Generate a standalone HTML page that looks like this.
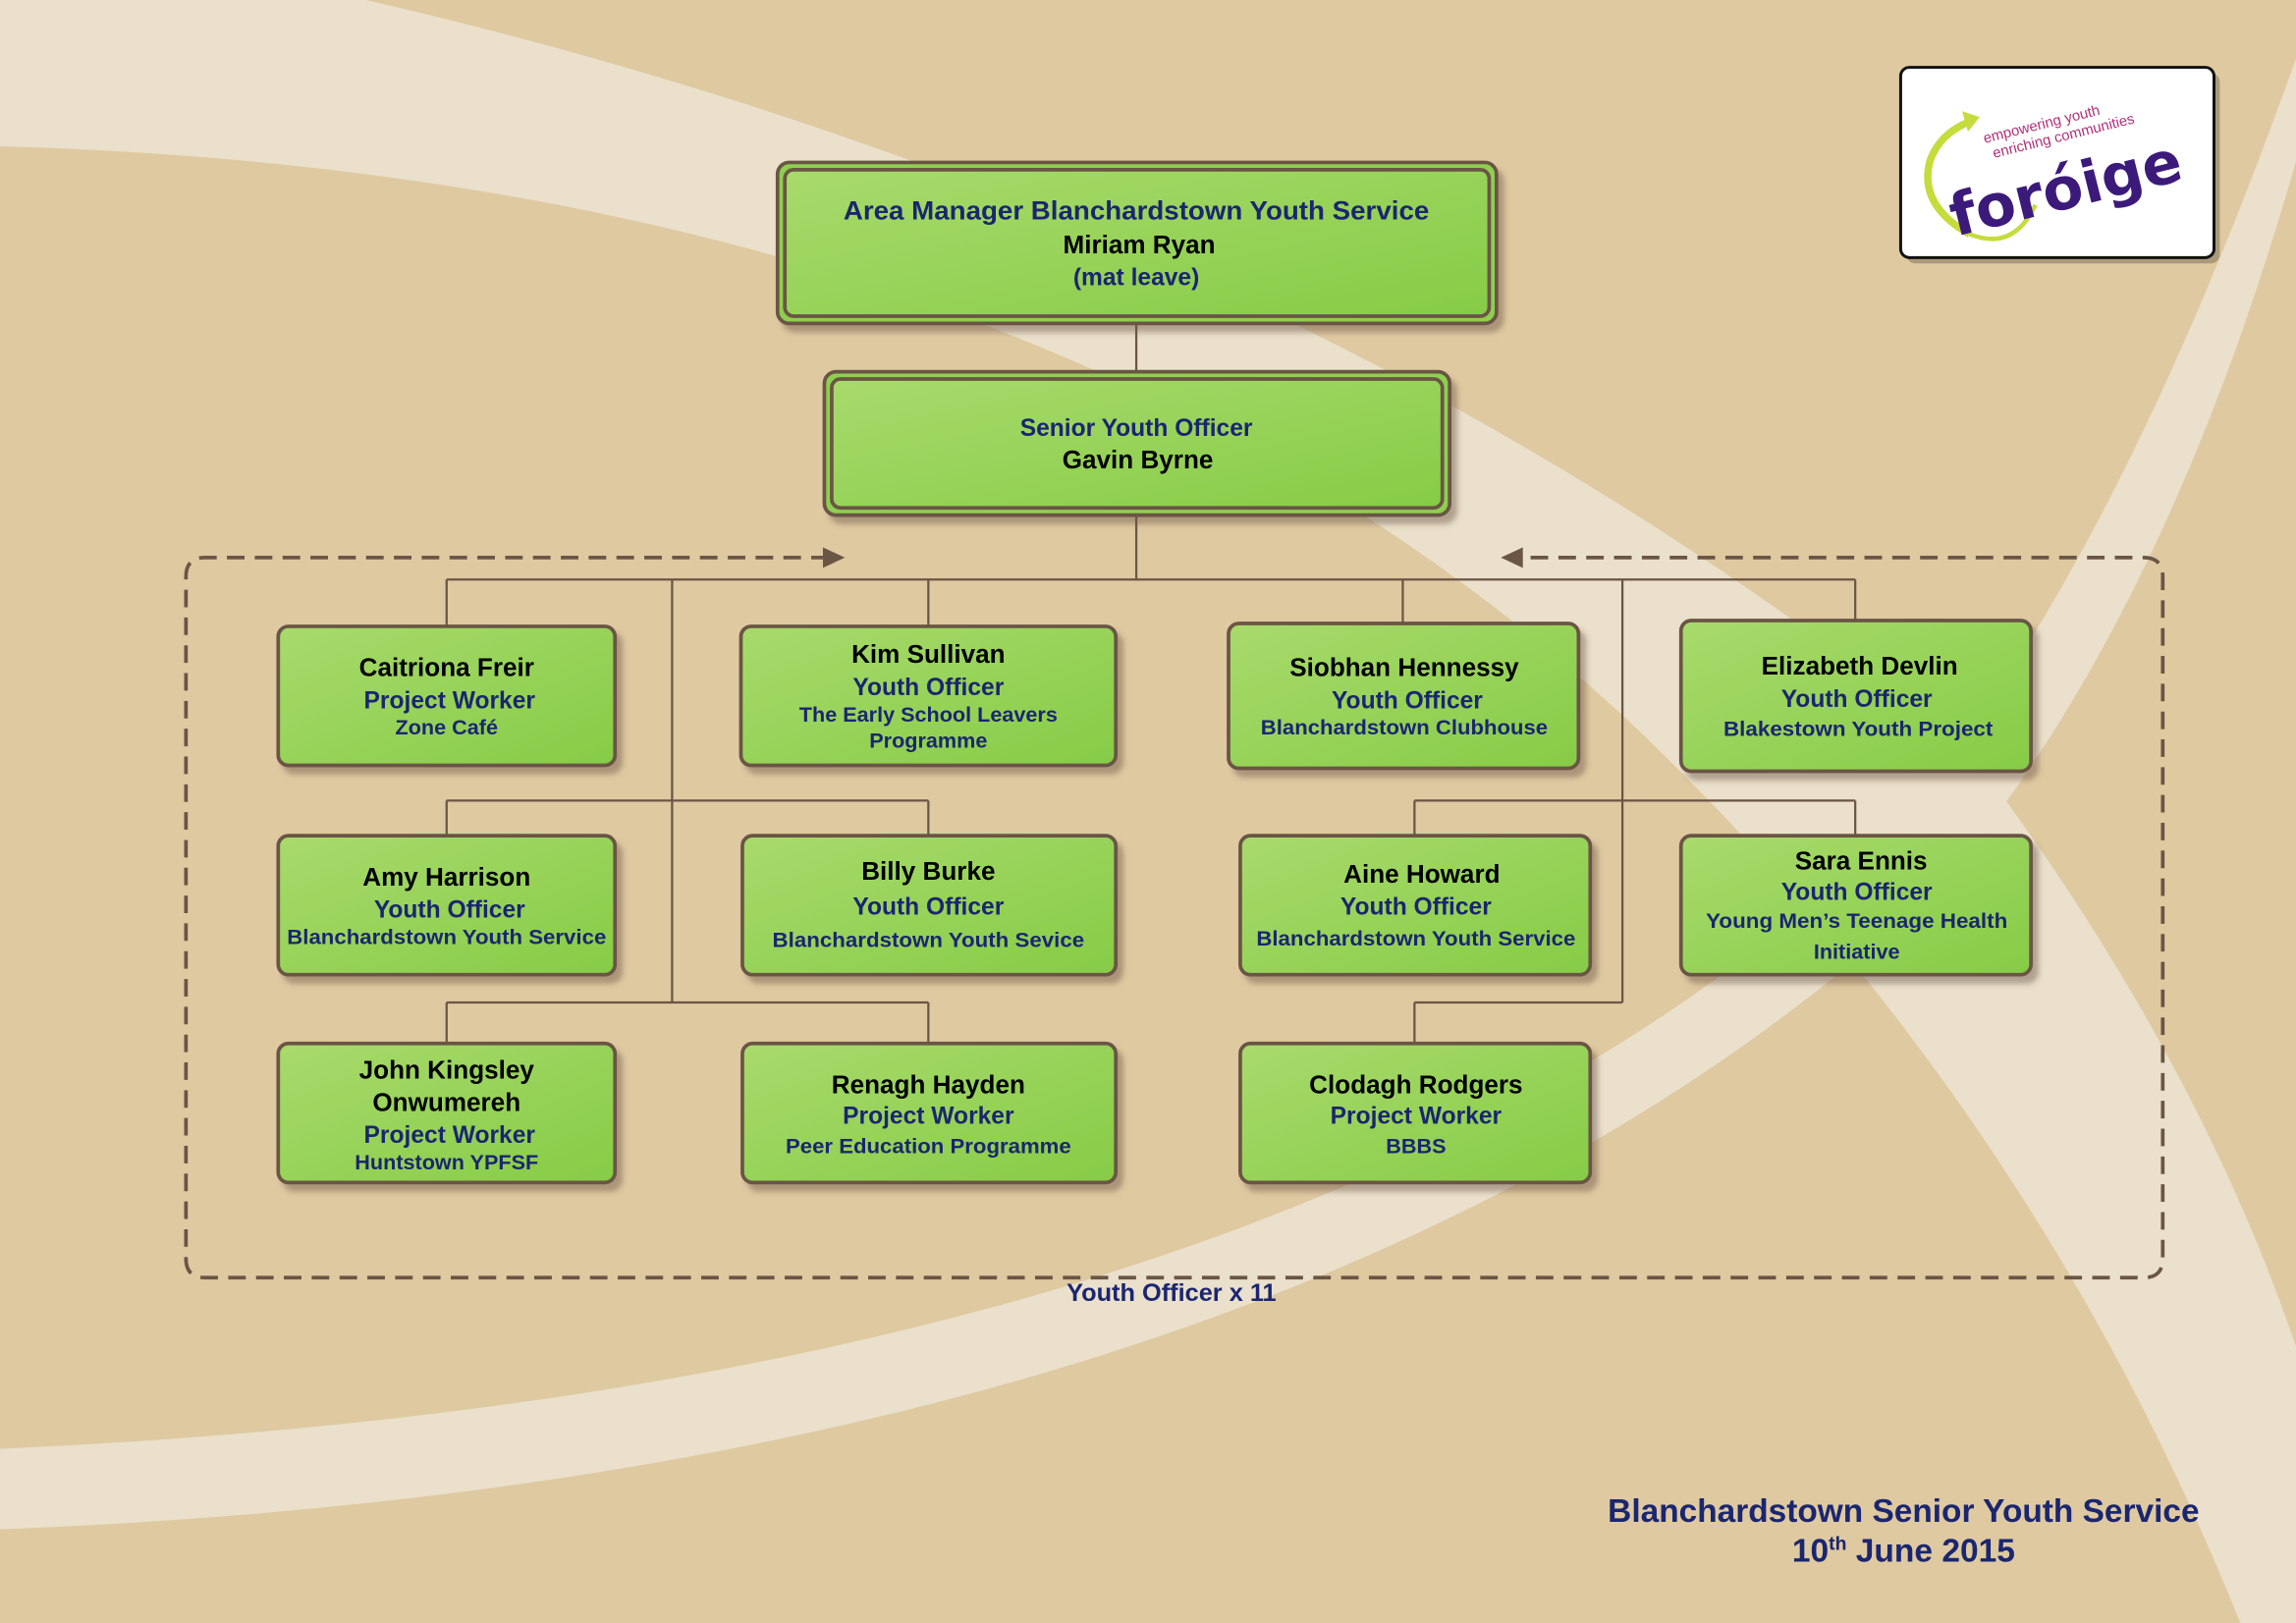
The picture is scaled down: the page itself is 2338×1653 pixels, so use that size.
<!DOCTYPE html>
<html><head><meta charset="utf-8"><style>
html,body{margin:0;padding:0;width:2338px;height:1653px;overflow:hidden;background:#dfc9a1}
svg{display:block}
text{font-family:"Liberation Sans",sans-serif;font-weight:bold;text-anchor:middle}
.n{fill:#000;font-size:17.5px}
.t{fill:#1a2670;font-size:16.5px}
.s{fill:#1a2670;font-size:14.5px}
</style></head><body>
<svg width="2338" height="1653" viewBox="0 0 1568 1109" preserveAspectRatio="none">
<defs>
<linearGradient id="g" x1="0" y1="0" x2="1" y2="1">
<stop offset="0" stop-color="#a8da6c"/><stop offset="1" stop-color="#86cc46"/>
</linearGradient>
<filter id="sh" x="-10%" y="-10%" width="130%" height="140%"><feDropShadow dx="4" dy="5" stdDeviation="2" flood-color="#6b5545" flood-opacity="0.45"/></filter>
</defs>
<rect width="1568" height="1109" fill="#dfc9a1"/>
<path d="M0,0 L250,0 Q900,150 1350,520 Q1500,720 1568,920 L1568,1109 L1530,1109 Q1390,760 1120,500 Q720,120 0,100 Z" fill="#eae0cb"/>
<path d="M0,1045 Q900,1010 1330,600 Q1480,420 1568,110 L1568,40 Q1440,400 1290,570 Q900,950 0,990 Z" fill="#eae0cb"/>

<g stroke="#6b5545" stroke-width="1.5" fill="none">
<path d="M776,221V254M776,352V396M305,396H1267M305,396V428M634,396V428M958,396V426M1267,396V424"/>
<path d="M459,396V685M305,547H634M305,547V571M634,547V571M305,685H634M305,685V713M634,685V713"/>
<path d="M1108,396V685M966,547H1267M966,547V571M1267,547V571M966,685H1108M966,685V713"/>
</g>
<g stroke="#6b5545" stroke-width="2.5" fill="none" stroke-dasharray="12,7">
<path d="M566,381 H140 Q127,381 127,394 V860 Q127,873 140,873 H1464 Q1477,873 1477,860 V394 Q1477,381 1464,381 H1038"/>
</g>
<path d="M577,381 L562,374 L562,388 Z" fill="#6b5545"/>
<path d="M1025,381 L1040,374 L1040,388 Z" fill="#6b5545"/>
<text x="800" y="889" class="t" style="font-size:17px">Youth Officer x 11</text>

<g filter="url(#sh)">
<rect x="531" y="111" width="491" height="110" rx="8" fill="#8ecf4f" stroke="#6b5545" stroke-width="2.5"/>
<rect x="536" y="116" width="481" height="100" rx="6" fill="url(#g)" stroke="#6b5545" stroke-width="2.5"/>
<rect x="563" y="254" width="427" height="98" rx="8" fill="#8ecf4f" stroke="#6b5545" stroke-width="2.5"/>
<rect x="568" y="259" width="417" height="88" rx="6" fill="url(#g)" stroke="#6b5545" stroke-width="2.5"/>
</g>
<text x="776" y="150" class="t" style="font-size:18px" textLength="400" lengthAdjust="spacingAndGlyphs">Area Manager Blanchardstown Youth Service</text>
<text x="778" y="173" class="n">Miriam Ryan</text>
<text x="776" y="195" class="t">(mat leave)</text>
<text x="776" y="298" class="t">Senior Youth Officer</text>
<text x="777" y="320" class="n">Gavin Byrne</text>

<g filter="url(#sh)" fill="url(#g)" stroke="#6b5545" stroke-width="2.5">
<rect x="190" y="428" width="230" height="95" rx="7"/>
<rect x="506" y="428" width="256" height="95" rx="7"/>
<rect x="839" y="426" width="239" height="99" rx="7"/>
<rect x="1148" y="424" width="239" height="103" rx="7"/>
<rect x="190" y="571" width="230" height="95" rx="7"/>
<rect x="507" y="571" width="255" height="95" rx="7"/>
<rect x="847" y="571" width="239" height="95" rx="7"/>
<rect x="1148" y="571" width="239" height="95" rx="7"/>
<rect x="190" y="713" width="230" height="95" rx="7"/>
<rect x="507" y="713" width="255" height="95" rx="7"/>
<rect x="847" y="713" width="239" height="95" rx="7"/>
</g>

<text x="305" y="462" class="n">Caitriona Freir</text>
<text x="307" y="484" class="t">Project Worker</text>
<text x="305" y="502" class="s">Zone Café</text>

<text x="634" y="453" class="n">Kim Sullivan</text>
<text x="634" y="475" class="t">Youth Officer</text>
<text x="634" y="493" class="s">The Early School Leavers</text>
<text x="634" y="511" class="s">Programme</text>

<text x="959" y="462" class="n">Siobhan Hennessy</text>
<text x="961" y="484" class="t">Youth Officer</text>
<text x="959" y="502" class="s" textLength="196" lengthAdjust="spacingAndGlyphs">Blanchardstown Clubhouse</text>

<text x="1270" y="461" class="n">Elizabeth Devlin</text>
<text x="1268" y="483" class="t">Youth Officer</text>
<text x="1269" y="503" class="s" textLength="184" lengthAdjust="spacingAndGlyphs">Blakestown Youth Project</text>

<text x="305" y="605" class="n">Amy Harrison</text>
<text x="307" y="627" class="t">Youth Officer</text>
<text x="305" y="645" class="s" textLength="218" lengthAdjust="spacingAndGlyphs">Blanchardstown Youth Service</text>

<text x="634" y="601" class="n">Billy Burke</text>
<text x="634" y="625" class="t">Youth Officer</text>
<text x="634" y="647" class="s" textLength="213" lengthAdjust="spacingAndGlyphs">Blanchardstown Youth Sevice</text>

<text x="971" y="603" class="n">Aine Howard</text>
<text x="967" y="625" class="t">Youth Officer</text>
<text x="967" y="646" class="s" textLength="218" lengthAdjust="spacingAndGlyphs">Blanchardstown Youth Service</text>

<text x="1271" y="594" class="n">Sara Ennis</text>
<text x="1268" y="615" class="t">Youth Officer</text>
<text x="1268" y="634" class="s" textLength="206" lengthAdjust="spacingAndGlyphs">Young Men’s Teenage Health</text>
<text x="1268" y="655" class="s">Initiative</text>

<text x="305" y="737" class="n">John Kingsley</text>
<text x="305" y="759" class="n">Onwumereh</text>
<text x="307" y="781" class="t">Project Worker</text>
<text x="305" y="799" class="s">Huntstown YPFSF</text>

<text x="634" y="747" class="n">Renagh Hayden</text>
<text x="634" y="768" class="t">Project Worker</text>
<text x="634" y="788" class="s" textLength="195" lengthAdjust="spacingAndGlyphs">Peer Education Programme</text>

<text x="967" y="747" class="n">Clodagh Rodgers</text>
<text x="967" y="768" class="t">Project Worker</text>
<text x="967" y="788" class="s">BBBS</text>

<rect x="1302" y="50" width="214" height="130" rx="6" fill="#8a7a60" opacity="0.6"/>
<rect x="1298" y="46" width="214" height="130" rx="6" fill="#fff" stroke="#111" stroke-width="2"/>
<path d="M1345,160 Q1310,140 1318,110 Q1325,90 1348,82" fill="none" stroke="#c5dc3c" stroke-width="5"/>
<path d="M1352,80 L1340,76 L1344,90 Z" fill="#c5dc3c"/>
<path d="M1345,160 Q1375,172 1390,140" fill="none" stroke="#c5dc3c" stroke-width="3"/>
<text x="1414" y="142" transform="rotate(-14 1414 142)" style="font-size:40px;fill:#3c1a7a;font-family:'DejaVu Sans',sans-serif;font-weight:bold">foróige</text>
<text x="1395" y="88" transform="rotate(-14 1395 88)" style="font-size:10px;fill:#b0307a;font-weight:normal">empowering youth</text>
<text x="1410" y="96" transform="rotate(-14 1410 96)" style="font-size:10px;fill:#b0307a;font-weight:normal">enriching communities</text>

<text x="1300" y="1040" style="font-size:22.5px;fill:#1a2670" textLength="404" lengthAdjust="spacingAndGlyphs">Blanchardstown Senior Youth Service</text>
<text x="1300" y="1067" style="font-size:22.5px;fill:#1a2670">10<tspan dy="-8" font-size="13">th</tspan><tspan dy="8"> June 2015</tspan></text>
</svg>
</body></html>
